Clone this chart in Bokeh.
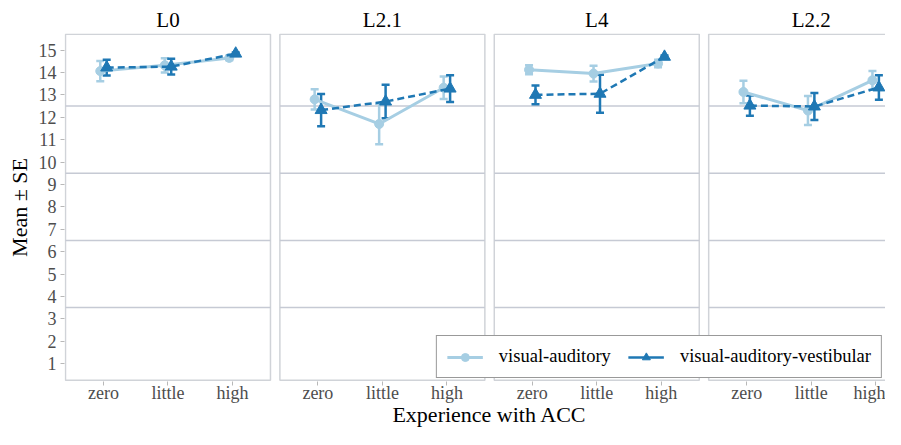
from bokeh.plotting import figure
from bokeh.models import (ColumnDataSource, FixedTicker, LinearAxis, Range1d,
                          Whisker, TeeHead, Legend, LegendItem)
from bokeh.embed import file_html
from bokeh.resources import INLINE

# ---------------- data ----------------
panels = ["L0", "L2.1", "L4", "L2.2"]
experience = ["zero", "little", "high"]
series_names = ["visual-auditory", "visual-auditory-vestibular"]
x_title = "Experience with ACC"
y_title = "Mean \u00b1 SE"

va_L0 = [14.06, 14.32, 14.65]
va_L0_se = [0.45, 0.32, 0.10]
vav_L0 = [14.22, 14.26, 14.84]
vav_L0_se = [0.35, 0.35, 0.05]

va_L21 = [12.80, 11.70, 13.32]
va_L21_se = [0.45, 0.90, 0.50]
vav_L21 = [12.32, 12.70, 13.28]
vav_L21_se = [0.72, 0.75, 0.60]

va_L4 = [14.12, 13.95, 14.40]
va_L4_se = [0.20, 0.35, 0.17]
vav_L4 = [13.00, 13.05, 14.70]
vav_L4_se = [0.42, 0.85, 0.06]

va_L22 = [13.13, 12.30, 13.65]
va_L22_se = [0.50, 0.65, 0.42]
vav_L22 = [12.52, 12.48, 13.33]
vav_L22_se = [0.45, 0.60, 0.55]

y_ticks = list(range(1, 16))
grid_levels = [3.5, 6.5, 9.5, 12.5]

va_means = [va_L0, va_L21, va_L4, va_L22]
va_ses = [va_L0_se, va_L21_se, va_L4_se, va_L22_se]
vav_means = [vav_L0, vav_L21, vav_L4, vav_L22]
vav_ses = [vav_L0_se, vav_L21_se, vav_L4_se, vav_L22_se]

# ---------------- layout constants ----------------
SPACING = 1000      # distance between categories (x units)
PERIOD = 3324       # distance between facet panels
DODGE = 50
PAD = 589           # panel padding around outer categories
Y_LO, Y_HI = 0.255, 15.71

FONT = "Liberation Serif"
C_VA = "#a6cee3"
C_VAV = "#1f78b4"
C_BORDER = "#d0d3d8"
C_GRID = "#c6cad4"
C_TICK = "#b8b8b8"
C_TICKLBL = "#4d4d4d"

def xpos(k, j):
    return k * PERIOD + (j + 1) * SPACING

p = figure(width=885, height=429, output_backend="svg", toolbar_location=None,
           x_range=Range1d(395.5, 13124.5), y_range=Range1d(0.20, 15.74),
           x_axis_location=None, y_axis_location=None,
           min_border_left=64, min_border_right=0, min_border_top=33,
           min_border_bottom=40)
p.outline_line_color = None
p.xgrid.visible = False
p.ygrid.visible = False
p.background_fill_color = "white"
p.border_fill_color = "white"

# panels
lefts = [xpos(k, 0) - PAD for k in range(len(panels))]
rights = [xpos(k, 2) + PAD for k in range(len(panels))]
p.quad(left=lefts, right=rights, bottom=[Y_LO] * 4, top=[Y_HI] * 4,
       fill_color="white", line_color=C_BORDER, line_width=1.5, level="image")

# horizontal reference lines inside each panel
gx0, gx1, gy = [], [], []
for k in range(len(panels)):
    for g in grid_levels:
        gx0.append(lefts[k]); gx1.append(rights[k]); gy.append(g)
p.segment(x0=gx0, y0=gy, x1=gx1, y1=gy, line_color=C_GRID, line_width=1.5, level="image")

legend_renderers = {}
for name, means, ses, color, offset, marker, dash, lw, msize in [
        (series_names[0], va_means, va_ses, C_VA, -DODGE, "circle", "solid", 3, 9),
        (series_names[1], vav_means, vav_ses, C_VAV, DODGE, "triangle", "7 4", 2.5, 12)]:
    for k in range(len(panels)):
        xs = [xpos(k, j) + offset for j in range(len(experience))]
        ys = means[k]
        se = ses[k]
        src = ColumnDataSource(dict(x=xs, y=ys,
                                    upper=[m + s for m, s in zip(ys, se)],
                                    lower=[m - s for m, s in zip(ys, se)]))
        p.line("x", "y", source=src, line_color=color, line_width=lw, line_dash=dash)
        w = Whisker(source=src, base="x", upper="upper", lower="lower",
                    dimension="height", line_color=color, line_width=2.5,
                    upper_head=TeeHead(size=8, line_color=color, line_width=2.5),
                    lower_head=TeeHead(size=8, line_color=color, line_width=2.5))
        w.level = "underlay"
        p.add_layout(w)
        p.scatter("x", "y", source=src, marker=marker, size=msize,
                  fill_color=color, line_color=color)
    # legend key: solid line + marker (nothing drawn in the plot area)
    nan = float("nan")
    lr = p.line([nan], [nan], line_color=color, line_width=lw)
    sr = p.scatter([nan], [nan], marker=marker, size=msize, fill_color=color, line_color=color)
    legend_renderers[name] = [lr, sr]

# axes
yaxis = LinearAxis(ticker=FixedTicker(ticks=y_ticks), axis_label=y_title)
yaxis.axis_line_color = None
yaxis.major_tick_line_color = C_TICK
yaxis.major_tick_out = 4
yaxis.major_tick_in = 0
yaxis.minor_tick_line_color = None
yaxis.major_label_text_font = FONT
yaxis.major_label_text_font_size = "18px"
yaxis.major_label_text_color = C_TICKLBL
yaxis.major_label_standoff = 4
yaxis.axis_label_text_font = FONT
yaxis.axis_label_text_font_size = "22px"
yaxis.axis_label_text_font_style = "normal"
yaxis.axis_label_text_color = "black"
yaxis.axis_label_standoff = 4
p.add_layout(yaxis, "left")

x_ticks = [xpos(k, j) for k in range(len(panels)) for j in range(len(experience))]
x_labels = {xpos(k, j): experience[j] for k in range(len(panels)) for j in range(len(experience))}
xaxis = LinearAxis(ticker=FixedTicker(ticks=x_ticks), major_label_overrides=x_labels)
xaxis.axis_line_color = None
xaxis.major_tick_line_color = C_TICK
xaxis.major_tick_out = 4
xaxis.major_tick_in = 0
xaxis.minor_tick_line_color = None
xaxis.major_label_text_font = FONT
xaxis.major_label_text_font_size = "18px"
xaxis.major_label_text_color = C_TICKLBL
xaxis.major_label_standoff = -3
p.add_layout(xaxis, "below")

# x axis title, centred under the whole facet strip (second, tick-less axis)
strip_center = (lefts[0] + rights[-1]) // 2
xtitle_axis = LinearAxis(ticker=FixedTicker(ticks=[strip_center]),
                         major_label_overrides={strip_center: x_title})
xtitle_axis.axis_line_color = None
xtitle_axis.major_tick_line_color = None
xtitle_axis.minor_tick_line_color = None
xtitle_axis.major_tick_out = 0
xtitle_axis.major_tick_in = 0
xtitle_axis.major_label_text_font = FONT
xtitle_axis.major_label_text_font_size = "22px"
xtitle_axis.major_label_text_color = "black"
xtitle_axis.major_label_standoff = -4
p.add_layout(xtitle_axis, "below")

centers = [xpos(k, 1) for k in range(len(panels))]
top_labels = {xpos(k, 1): panels[k] for k in range(len(panels))}
topaxis = LinearAxis(ticker=FixedTicker(ticks=centers), major_label_overrides=top_labels)
topaxis.axis_line_color = None
topaxis.major_tick_line_color = None
topaxis.minor_tick_line_color = None
topaxis.major_tick_out = 0
topaxis.major_tick_in = 0
topaxis.major_label_text_font = FONT
topaxis.major_label_text_font_size = "21px"
topaxis.major_label_text_color = "black"
topaxis.major_label_standoff = 2
p.add_layout(topaxis, "above")

legend = Legend(items=[LegendItem(label=n, renderers=legend_renderers[n]) for n in series_names],
                orientation="horizontal", location="bottom_right")
legend.margin = 3
legend.padding = 10
legend.spacing = 17
legend.label_standoff = 16
legend.glyph_width = 36
legend.glyph_height = 20
legend.label_height = 20
legend.label_text_font = FONT
legend.label_text_font_size = "18.5px"
legend.label_text_color = "black"
legend.border_line_color = "#333333"
legend.border_line_width = 1
legend.background_fill_color = "white"
legend.background_fill_alpha = 1.0
p.add_layout(legend)

open("out.html", "w").write(file_html(p, INLINE))
